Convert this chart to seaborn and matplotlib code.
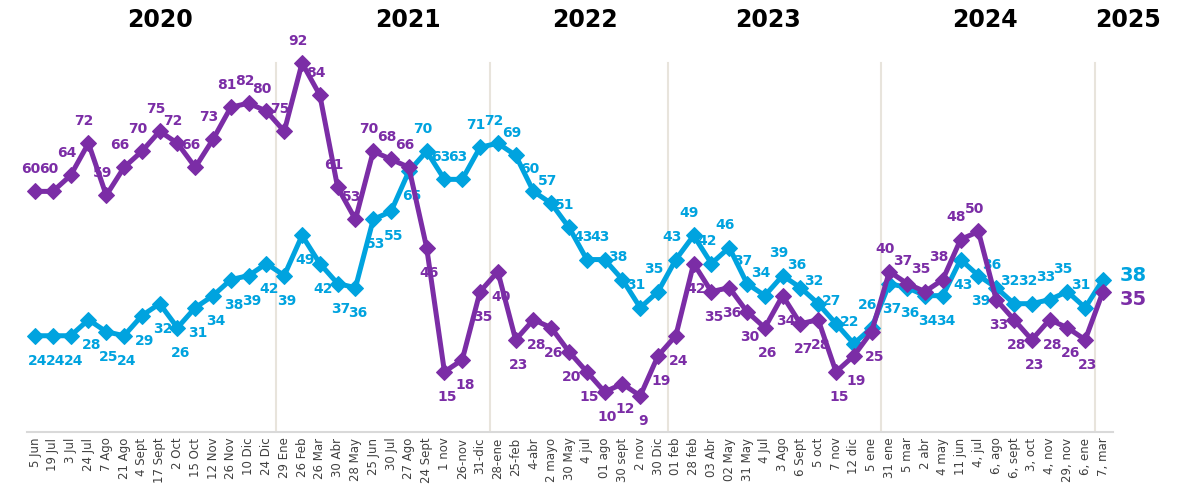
import matplotlib
matplotlib.use('Agg')
import matplotlib.pyplot as plt
import seaborn as sns
import numpy as np
import pandas as pd

# fechas de cada medicion
fechas = ['5 Jun', '19 Jul', '3 Jul', '24 Jul', '7 Ago', '21 Ago', '4 Sept', '17 Sept', '2 Oct', '15 Oct',
          '12 Nov', '26 Nov', '10 Dic', '24 Dic', '29 Ene', '26 Feb', '26 Mar', '30 Abr', '28 May', '25 Jun',
          '30 Jul', '27 Ago', '24 Sept', '1 nov', '26-nov', '31-dic', '28-ene', '25-feb', '4-abr', '2 mayo',
          '30 May', '4 jul', '01 ago', '30 sept', '2 nov', '30 Dic', '01 feb', '28 feb', '03 Abr', '02 May',
          '31 May', '4 Jul', '3 Ago', '6 Sept', '5 oct', '7 nov', '12 dic', '5 ene', '31 ene', '5 mar',
          '2 abr', '4 may', '11 jun', '4, jul', '6, ago', '6, sept', '3, oct', '4, nov', '29, nov', '6, ene',
          '7, mar']

morado = [60, 60, 64, 72, 59, 66, 70, 75, 72, 66,
          73, 81, 82, 80, 75, 92, 84, 61, 53, 70,
          68, 66, 46, 15, 18, 35, 40, 23, 28, 26,
          20, 15, 10, 12, 9, 19, 24, 42, 35, 36,
          30, 26, 34, 27, 28, 15, 19, 25, 40, 37,
          35, 38, 48, 50, 33, 28, 23, 28, 26, 23,
          35]

azul = [24, 24, 24, 28, 25, 24, 29, 32, 26, 31,
        34, 38, 39, 42, 39, 49, 42, 37, 36, 53,
        55, 65, 70, 63, 63, 71, 72, 69, 60, 57,
        51, 43, 43, 38, 31, 35, 43, 49, 42, 46,
        37, 34, 39, 36, 32, 27, 22, 26, 37, 36,
        34, 34, 43, 39, 36, 32, 32, 33, 35, 31,
        38]

anios = ['2020', '2021', '2022', '2023', '2024', '2025']
inicio_anio = [14, 26, 36, 48, 60]   # primer punto de cada anio nuevo

c_morado = '#7B2DA6'
c_azul = '#00A3DF'

df = pd.DataFrame({'x': np.arange(len(fechas)), 'morado': morado, 'azul': azul})

fig = plt.figure(figsize=(11.92, 4.92), dpi=100)
ax = fig.add_axes([0.0227, 0.122, 0.911, 0.815])

for k in inicio_anio:
    ax.plot([k - 0.45, k - 0.45], [0, 92], color='#E8E4DC', lw=1.5, zorder=0)

sns.lineplot(data=df, x='x', y='azul', color=c_azul, lw=3.6, marker='D', markersize=8,
             markeredgecolor=c_azul, ax=ax, zorder=3)
sns.lineplot(data=df, x='x', y='morado', color=c_morado, lw=3.6, marker='D', markersize=8,
             markeredgecolor=c_morado, ax=ax, zorder=4)

# etiquetas de datos: la serie de arriba lleva la etiqueta encima, la de abajo debajo
n = len(fechas)
for i in range(n - 1):
    m, a = morado[i], azul[i]
    dm = (-3, 16) if m >= a else (2, -18)
    da = (-3, 16) if a > m else (2, -18)
    ax.annotate(str(m), (i, m), xytext=dm, textcoords='offset points', ha='center',
                va='center', fontsize=10, fontweight='bold', color=c_morado)
    ax.annotate(str(a), (i, a), xytext=da, textcoords='offset points', ha='center',
                va='center', fontsize=10, fontweight='bold', color=c_azul)

ax.annotate(str(azul[-1]), (n - 1, azul[-1]), xytext=(12, 3), textcoords='offset points',
            ha='left', va='center', fontsize=14, fontweight='bold', color=c_azul)
ax.annotate(str(morado[-1]), (n - 1, morado[-1]), xytext=(12, -6), textcoords='offset points',
            ha='left', va='center', fontsize=14, fontweight='bold', color=c_morado)

# anios arriba
pos_anios = [160, 408, 585, 768, 985, 1128]
for t, px in zip(anios, pos_anios):
    fig.text(px / 1192, (492 - 20) / 492, t, ha='center', va='center', fontsize=17,
             fontweight='bold', color='black')

ax.set_xlim(-0.45, 60.56)
ax.set_ylim(0, 100)
ax.set_xticks(np.arange(n))
ax.set_xticklabels(fechas, rotation=90, fontsize=8.5, color='#404040')
ax.tick_params(axis='x', length=0, pad=4)
ax.set_yticks([])
ax.set_xlabel('')
ax.set_ylabel('')
for s in ['top', 'right', 'left']:
    ax.spines[s].set_visible(False)
ax.spines['bottom'].set_color('#D9D9D9')
ax.spines['bottom'].set_linewidth(1.5)

fig.savefig('out.png', dpi=100)
